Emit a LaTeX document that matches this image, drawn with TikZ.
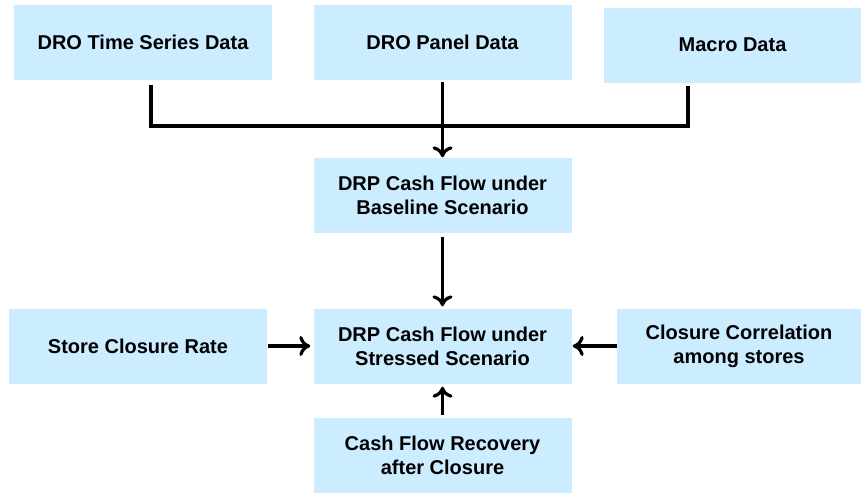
\documentclass[tikz,border=0pt]{standalone}
\usepackage{fontspec}
\setmainfont{Liberation Sans}
\usepackage{xcolor}
\usepackage{tikz}
\usetikzlibrary{shapes,arrows.meta}
\definecolor{boxblue}{RGB}{204,236,255}

\begin{document}
\begin{tikzpicture}[x=1pt,y=-1pt]
    \useasboundingbox (0,0) rectangle (861,493);
    \tikzstyle{flowbox}=[rectangle, fill=boxblue, minimum width = 258pt,
    minimum height = 75pt, align=center, inner sep=2pt,
    font=\fontsize{20}{24}\selectfont\bfseries]
    \tikzstyle{flowline}=[line width=3.2pt, black]
    \tikzstyle{flowarrow}=[flowline, -{Computer Modern Rightarrow[length=11pt,width=20pt,line width=3.2pt]}]

    \node[flowbox](ts) at (143,42.5){DRO Time Series Data};
    \node[flowbox](panel) at (442.5,42.5){DRO Panel Data};
    \node[flowbox, minimum width = 257pt](macro) at (732.5,45){Macro Data};

    \node[flowbox](base) at (442.5,195){DRP Cash Flow under\\Baseline Scenario};
    \node[flowbox](stress) at (442.5,346){DRP Cash Flow under\\Stressed Scenario};
    \node[flowbox](store) at (138,346){Store Closure Rate};
    \node[flowbox, minimum width = 244pt](corr) at (739,346){Closure Correlation\\among stores};
    \node[flowbox](recov) at (442.5,455.5){Cash Flow Recovery\\after Closure};

    % inputs joined into one line
    \coordinate (join) at (442.5,126);
    \draw[flowline] ([xshift=8pt,yshift=-5pt]ts.south) |- (join) -| ([xshift=-44.5pt,yshift=-3pt]macro.south);
    \draw[flowarrow] ([yshift=-2pt]panel.south) -- (base.north);

\draw[flowarrow] ([yshift=-4pt]base.south) -- ([yshift=2pt]stress.north);

\draw[flowarrow] ([xshift=1pt]store.east) -- ([xshift=-3pt]stress.west);
\draw[flowarrow] (corr.west) -- ([xshift=1pt]stress.east);
\draw[flowarrow] ([yshift=3pt]recov.north) -- ([yshift=-3pt]stress.south);
\end{tikzpicture}
\end{document}
